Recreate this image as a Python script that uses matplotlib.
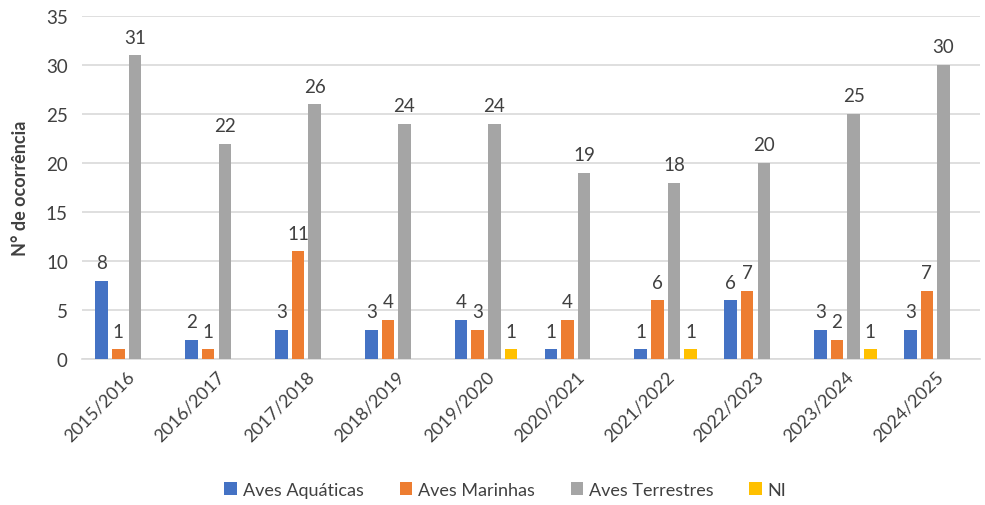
import numpy as np
import matplotlib
matplotlib.use("Agg")
from matplotlib import pyplot as plt

plt.rcParams['font.family'] = ['Lato', 'DejaVu Sans']

seasons = ["2015/2016", "2016/2017", "2017/2018", "2018/2019", "2019/2020",
           "2020/2021", "2021/2022", "2022/2023", "2023/2024", "2024/2025"]
aquaticas = [8, 2, 3, 3, 4, 1, 1, 6, 3, 3]
marinhas = [1, 1, 11, 4, 3, 4, 6, 7, 2, 7]
terrestres = [31, 22, 26, 24, 24, 19, 18, 20, 25, 30]
ni = [0, 0, 0, 0, 1, 0, 1, 0, 1, 0]

series = [("Aves Aquáticas", aquaticas, "#4472C4"),
          ("Aves Marinhas", marinhas, "#ED7D31"),
          ("Aves Terrestres", terrestres, "#A5A5A5"),
          ("NI", ni, "#FFC000")]

txt = "#404040"
fig = plt.figure(figsize=(9.85, 5.06), dpi=100)
ax = fig.add_axes([0.083, 0.288, 0.912, 0.678])

x = np.arange(len(seasons))
step = 0.185
width = 0.14
for i, (name, vals, col) in enumerate(series):
    pos = x + (i - 1.5) * step
    ax.bar(pos, vals, width, color=col, label=name, zorder=3)
    for p, v in zip(pos, vals):
        if v > 0:
            ax.text(p, v + 1.0, str(v), ha='center', va='bottom',
                    fontsize=13.5, color=txt)

ax.set_xlim(-0.5, len(seasons) - 0.5)
ax.set_ylim(0, 35)
ax.set_yticks(range(0, 36, 5))
ax.set_xticks(x)
ax.set_xticklabels(seasons, rotation=45, ha='right', rotation_mode='anchor',
                   fontsize=13, color=txt)
ax.tick_params(axis='y', labelsize=13.5, colors=txt, length=0, pad=10)
ax.tick_params(axis='x', length=0, pad=6)
ax.grid(axis='y', color='#D9D9D9', linewidth=1.2, zorder=0)
for s in ['top', 'right', 'left']:
    ax.spines[s].set_visible(False)
ax.spines['bottom'].set_color('#D9D9D9')
ax.spines['bottom'].set_linewidth(1.2)
ax.set_ylabel("N° de ocorrência", fontsize=13, fontweight='bold', color=txt,
              labelpad=12)

fig.legend(loc='center', bbox_to_anchor=(0.513, 0.03), ncol=4, frameon=False,
           fontsize=13, handlelength=0.7, handleheight=0.7, handletextpad=0.3,
           columnspacing=2.0, labelcolor=txt)

fig.savefig("out.png", dpi=100)
